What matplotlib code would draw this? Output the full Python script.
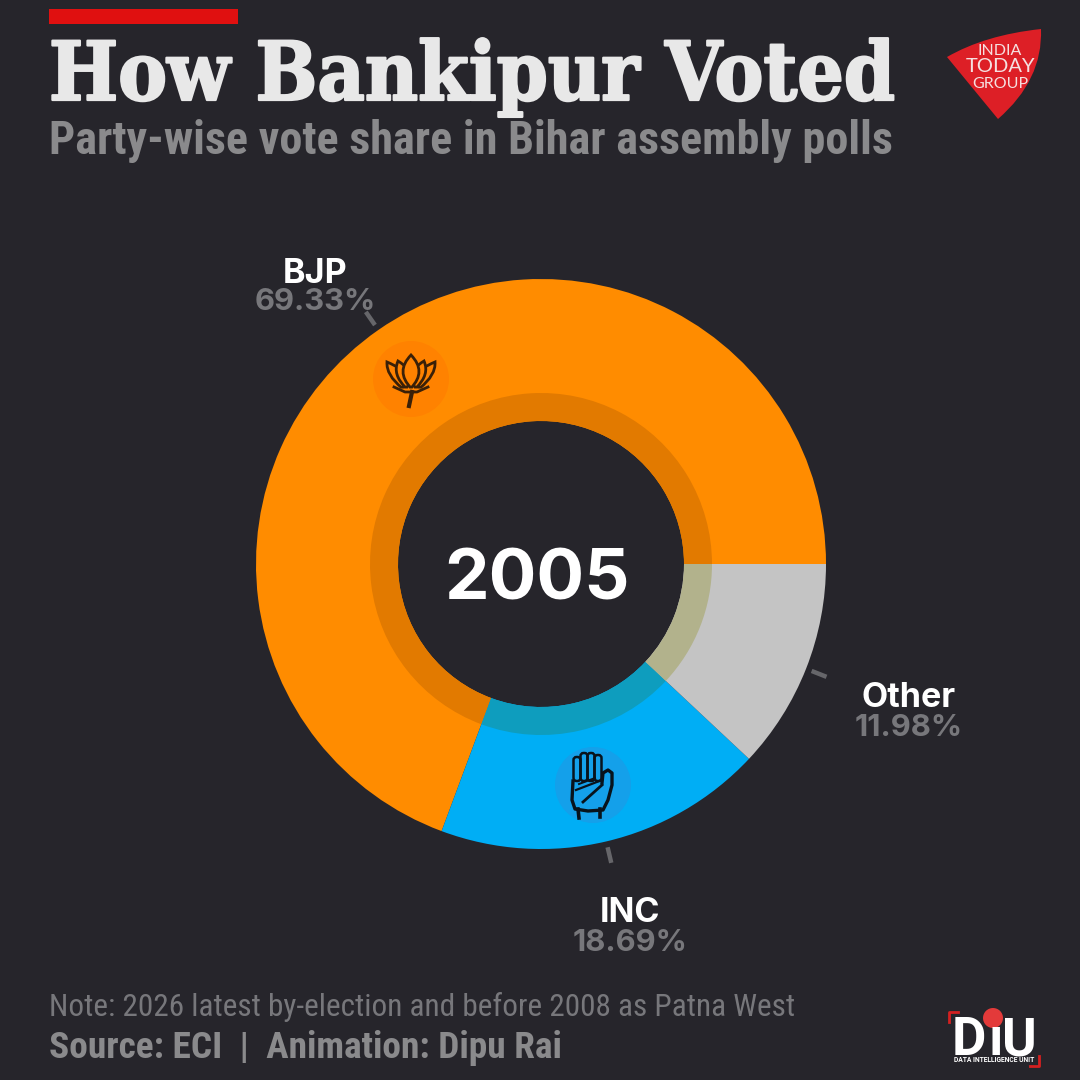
# -*- coding: utf-8 -*-
import numpy as np
import matplotlib
matplotlib.use('Agg')
import matplotlib.pyplot as plt
import matplotlib.patheffects as pe
from matplotlib.path import Path
from matplotlib.patches import PathPatch, Circle, Rectangle, FancyBboxPatch

parties = ['BJP', 'INC', 'Other']
shares = [69.33, 18.69, 11.98]
colors = ['#FF8C00', '#00AEF5', '#C4C4C4']
band_colors = ['#E27A00', '#0E9DBE', '#B2B28C']
year = '2005'

BG = '#26252B'
GREY = '#77777B'
NARROW = ['Roboto Condensed', 'Roboto', 'DejaVu Sans']


def Y(py):
    return 1080 - py


fig = plt.figure(figsize=(10.8, 10.8), dpi=100, facecolor=BG)
ax = fig.add_axes([0, 0, 1, 1])

cx, cy, R = 541, Y(564), 285

# main donut
ax.pie(shares, colors=colors, center=(cx, cy), radius=R, startangle=0,
       wedgeprops=dict(width=R - 143, linewidth=0))
# darker inner band on top of the donut
ax.pie(shares, colors=band_colors, center=(cx, cy), radius=171, startangle=0,
       wedgeprops=dict(width=28, linewidth=0))

ax.set_xlim(0, 1080)
ax.set_ylim(0, 1080)
ax.set_aspect('equal')
ax.axis('off')

# small ticks at middle of each slice
start = 0
for s in shares:
    mid = np.deg2rad(start + s * 3.6 / 2)
    ax.plot([cx + 291 * np.cos(mid), cx + 307 * np.cos(mid)],
            [cy + 291 * np.sin(mid), cy + 307 * np.sin(mid)],
            color='#66666A', lw=3.2, solid_capstyle='butt')
    start += s * 3.6

# header
ax.add_patch(Rectangle((49, Y(24)), 189, 15, color='#E01010', lw=0))
ax.text(49, Y(100), 'How Bankipur Voted', family='DejaVu Serif', weight='bold', stretch='condensed',
        fontsize=58.6, color='#E8E8E8', va='baseline', ha='left',
        path_effects=[pe.withStroke(linewidth=1.6, foreground='#E8E8E8')])
ax.text(49, Y(154), 'Party-wise vote share in Bihar assembly polls', family=NARROW,
        weight='bold', fontsize=33.3, color='#8A8A8C', va='baseline', ha='left')

# labels
label_pos = {'BJP': (315, 283, 310), 'INC': (630, 922, 951), 'Other': (909, 707, 736)}
for p, s in zip(parties, shares):
    x, y1, y2 = label_pos[p]
    ax.text(x, Y(y1), p, family='Inter', weight='bold', fontsize=24.5, color='white',
            ha='center', va='baseline')
    ax.text(x, Y(y2), '%.2f%%' % s, family='Inter', weight='bold', fontsize=22.3, color=GREY,
            ha='center', va='baseline')

ax.text(537, Y(600), year, family='Inter', weight='bold', fontsize=51, color='white',
        ha='center', va='baseline')

# footer
ax.text(49, Y(1016), 'Note: 2026 latest by-election and before 2008 as Patna West', family=NARROW,
        fontsize=22.5, color='#77777B', va='baseline', ha='left')
ax.text(49, Y(1058), 'Source: ECI  |  Animation: Dipu Rai', family=NARROW, weight='bold',
        fontsize=26.9, color='#8A8A8C', va='baseline', ha='left')

# lotus icon
lx, ly = 411, 379
LOTUS = '#3A2008'
ax.add_patch(Circle((lx, Y(ly)), 38, color='#FF8200', lw=0))


def petal(x0, y0, tipx, tipy, w):
    verts = [(x0, y0), (x0 - w, (y0 + tipy) / 2), (tipx, tipy),
             (x0 + w, (y0 + tipy) / 2), (x0, y0)]
    verts = [(lx + a, Y(ly + b)) for a, b in verts]
    codes = [Path.MOVETO, Path.CURVE3, Path.CURVE3, Path.CURVE3, Path.CURVE3]
    return PathPatch(Path(verts, codes), fc='#FF8200', ec=LOTUS, lw=2)


for x0, tipx, tipy, w in [(-9, -24, -17, 16), (9, 24, -17, 16), (-5, -13, -18, 14), (5, 13, -18, 14)]:
    ax.add_patch(petal(x0, 9, tipx, tipy, w))
ax.add_patch(petal(0, 9, 0, -24, 16))
ax.plot([lx - 17, lx - 6, lx + 6, lx + 17], [Y(ly + 8), Y(ly + 13), Y(ly + 13), Y(ly + 8)],
        color=LOTUS, lw=2)
ax.plot([lx + 1, lx - 2], [Y(ly + 13), Y(ly + 27)], color=LOTUS, lw=3)

# hand icon
hx, hy = 593, 785
ax.add_patch(Circle((hx, Y(hy)), 38, color='#14A0EA', lw=0))
hand = '#08131C'
for dx, top in [(-16, -28), (-9, -32), (-2, -32), (5, -30)]:
    ax.add_patch(FancyBboxPatch((hx + dx - 3.5, Y(hy - 4)), 7, -top - 4, boxstyle='round,pad=0,rounding_size=3',
                                fc='none', ec=hand, lw=1.8))
palm = [(-20, -4), (-21, 15), (-18, 24), (-5, 26), (10, 25), (15, 15), (19, 0), (19, -12), (15, -15),
        (10, -12), (9, -2)]
ax.plot([hx + a for a, b in palm], [Y(hy + b) for a, b in palm], color=hand, lw=2.4,
        solid_joinstyle='round')
ax.plot([hx - 17, hx + 9], [Y(hy + 5), Y(hy - 5)], color=hand, lw=1.6)
ax.plot([hx - 10, hx + 9], [Y(hy + 17), Y(hy)], color=hand, lw=2)
ax.plot([hx - 14, hx + 2], [Y(hy - 1), Y(hy - 7)], color=hand, lw=1.4)
ax.plot([hx - 15, hx - 14], [Y(hy + 24), Y(hy + 33)], color=hand, lw=2.6)
ax.plot([hx + 7, hx + 7], [Y(hy + 24), Y(hy + 32)], color=hand, lw=2.6)

# India Today logo
logo = [(947, 57), (985, 35), (1041, 29), (1043, 80), (998, 119), (947, 57)]
logo_v = [(a, Y(b)) for a, b in logo]
codes = [Path.MOVETO, Path.CURVE3, Path.CURVE3, Path.CURVE3, Path.CURVE3, Path.LINETO]
ax.add_patch(PathPatch(Path(logo_v, codes), fc='#DD1F26', ec='none'))
for txt, y, fs in [('INDIA', 55, 11.5), ('TODAY', 72, 14.5), ('GROUP', 88, 11.5)]:
    ax.text(1000, Y(y), txt, family='Lato', fontsize=fs, color='#F5E0E0', ha='center', va='baseline')

# DiU logo
ax.text(952, Y(1055), 'D', family='Roboto', weight='bold', fontsize=38, color='white', ha='left', va='baseline')
ax.text(996, Y(1055), 'ı', family='Roboto', weight='bold', fontsize=38, color='white', ha='center', va='baseline')
ax.add_patch(Circle((993, Y(1018)), 10, color='#E33A3A', lw=0))
ax.text(1002, Y(1055), 'U', family='Roboto', weight='bold', fontsize=38, color='white', ha='left', va='baseline')
ax.text(994, Y(1062), 'DATA INTELLIGENCE UNIT', family='Roboto', weight='bold', fontsize=4.9, color='white',
        ha='center', va='baseline')
ax.plot([949, 949, 958], [Y(1022), Y(1012), Y(1012)], color='#D42020', lw=2)
ax.plot([1030, 1039, 1039], [Y(1066), Y(1066), Y(1056)], color='#D42020', lw=2)

fig.savefig('out.png', dpi=100, facecolor=BG)
